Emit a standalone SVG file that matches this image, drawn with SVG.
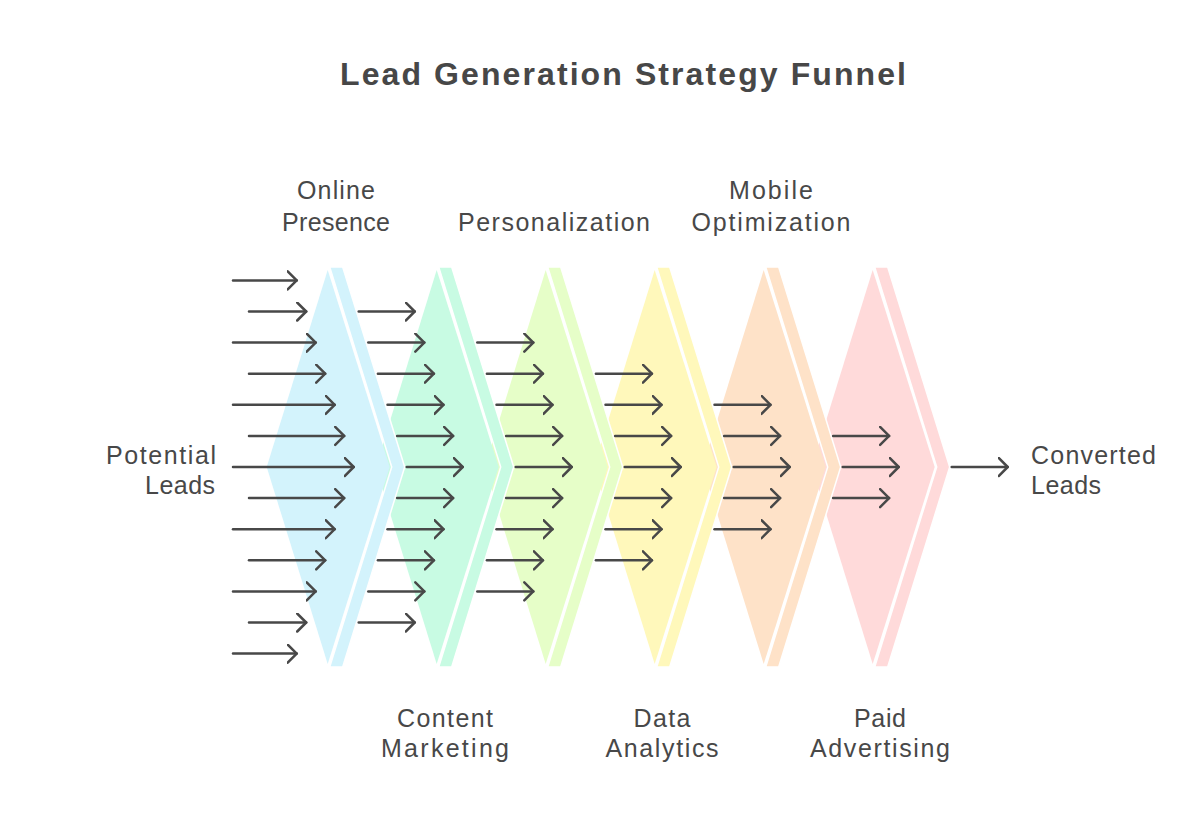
<svg xmlns="http://www.w3.org/2000/svg" width="1200" height="826" viewBox="0 0 1200 826">
<style>
.t{font-family:"Liberation Sans",Arial,sans-serif;font-size:25px;fill:#484848}
.title{font-family:"Liberation Sans",Arial,sans-serif;font-size:32px;font-weight:bold;fill:#474747}
.strip{stroke:#fff;stroke-width:1.5}
.a{stroke:#484848;stroke-width:2.5;fill:none;stroke-linecap:round;marker-end:url(#h)}
</style>
<defs>
<marker id="h" markerUnits="userSpaceOnUse" markerWidth="14" markerHeight="22" refX="10" refY="10" orient="auto" viewBox="0 0 14 22">
<path d="M1,1 L10,10 L1,19" fill="none" stroke="#484848" stroke-width="2.5" stroke-linecap="round" stroke-linejoin="round"/>
</marker>
</defs>
<rect width="1200" height="826" fill="#fff"/>
<text class="title" x="623" y="85" text-anchor="middle" textLength="566">Lead Generation Strategy Funnel</text>

<g id="stage-paid-advertising">
<polygon class="strip" fill="#ffdada" points="874.7,267 887.7,267 949.7,467 887.7,667 874.7,667 936.7,467"/>
<polygon fill="#ffdada" points="872.7,270 934.7,467 872.7,664 811.7,467"/>
</g>
<g id="stage-mobile-optimization">
<polygon class="strip" fill="#fee2c8" points="765.7,267 778.7,267 840.7,467 778.7,667 765.7,667 827.7,467"/>
<polygon fill="#fee2c8" points="763.7,270 825.7,467 763.7,664 702.7,467"/>
</g>
<g id="stage-data-analytics">
<polygon class="strip" fill="#fff8bb" points="656.7,267 669.7,267 731.7,467 669.7,667 656.7,667 718.7,467"/>
<polygon fill="#fff8bb" points="654.7,270 716.7,467 654.7,664 593.7,467"/>
</g>
<g id="stage-personalization">
<polygon class="strip" fill="#e6fec8" points="547.7,267 560.7,267 622.7,467 560.7,667 547.7,667 609.7,467"/>
<polygon fill="#e6fec8" points="545.7,270 607.7,467 545.7,664 484.7,467"/>
</g>
<g id="stage-content-marketing">
<polygon class="strip" fill="#c8fbe3" points="438.7,267 451.7,267 513.7,467 451.7,667 438.7,667 500.7,467"/>
<polygon fill="#c8fbe3" points="436.7,270 498.7,467 436.7,664 375.7,467"/>
</g>
<g id="stage-online-presence">
<polygon class="strip" fill="#d3f3fc" points="329.7,267 342.7,267 404.7,467 342.7,667 329.7,667 391.7,467"/>
<polygon fill="#d3f3fc" points="327.7,270 389.7,467 327.7,664 266.7,467"/>
</g>

<g id="connectors">
<path class="a" d="M233 280.4H296.7"/>
<path class="a" d="M249 311.5H306.2"/>
<path class="a" d="M233 342.6H315.7"/>
<path class="a" d="M249 373.7H325.2"/>
<path class="a" d="M233 404.8H334.7"/>
<path class="a" d="M249 435.9H344.2"/>
<path class="a" d="M233 467H353.7"/>
<path class="a" d="M249 498.1H344.2"/>
<path class="a" d="M233 529.2H334.7"/>
<path class="a" d="M249 560.3H325.2"/>
<path class="a" d="M233 591.4H315.7"/>
<path class="a" d="M249 622.5H306.2"/>
<path class="a" d="M233 653.6H296.7"/>

<path class="a" d="M358.7 311.5h56"/>
<path class="a" d="M368.3 342.6h56"/>
<path class="a" d="M377.9 373.7h56"/>
<path class="a" d="M387.5 404.8h56"/>
<path class="a" d="M397.1 435.9h56"/>
<path class="a" d="M406.7 467h56"/>
<path class="a" d="M397.1 498.1h56"/>
<path class="a" d="M387.5 529.2h56"/>
<path class="a" d="M377.9 560.3h56"/>
<path class="a" d="M368.3 591.4h56"/>
<path class="a" d="M358.7 622.5h56"/>

<path class="a" d="M477.3 342.6h56"/>
<path class="a" d="M486.9 373.7h56"/>
<path class="a" d="M496.5 404.8h56"/>
<path class="a" d="M506.1 435.9h56"/>
<path class="a" d="M515.7 467h56"/>
<path class="a" d="M506.1 498.1h56"/>
<path class="a" d="M496.5 529.2h56"/>
<path class="a" d="M486.9 560.3h56"/>
<path class="a" d="M477.3 591.4h56"/>

<path class="a" d="M595.9 373.7h56"/>
<path class="a" d="M605.5 404.8h56"/>
<path class="a" d="M615.1 435.9h56"/>
<path class="a" d="M624.7 467h56"/>
<path class="a" d="M615.1 498.1h56"/>
<path class="a" d="M605.5 529.2h56"/>
<path class="a" d="M595.9 560.3h56"/>

<path class="a" d="M714.5 404.8h56"/>
<path class="a" d="M724.1 435.9h56"/>
<path class="a" d="M733.7 467h56"/>
<path class="a" d="M724.1 498.1h56"/>
<path class="a" d="M714.5 529.2h56"/>

<path class="a" d="M833.1 435.9h56"/>
<path class="a" d="M842.7 467h56"/>
<path class="a" d="M833.1 498.1h56"/>

<path class="a" d="M951.7 467h56"/>
</g>

<g id="labels">
<text class="t" x="336" y="199" text-anchor="middle" textLength="78">Online</text>
<text class="t" x="336" y="231" text-anchor="middle" textLength="108">Presence</text>
<text class="t" x="554" y="231" text-anchor="middle" textLength="192">Personalization</text>
<text class="t" x="771" y="199" text-anchor="middle" textLength="84">Mobile</text>
<text class="t" x="771" y="231" text-anchor="middle" textLength="159">Optimization</text>
<text class="t" x="161" y="464" text-anchor="middle" textLength="110">Potential</text>
<text class="t" x="180" y="494" text-anchor="middle" textLength="70">Leads</text>
<text class="t" x="1031" y="464" textLength="125">Converted</text>
<text class="t" x="1031" y="494" textLength="70">Leads</text>
<text class="t" x="445" y="727" text-anchor="middle" textLength="96">Content</text>
<text class="t" x="445" y="757" text-anchor="middle" textLength="128">Marketing</text>
<text class="t" x="662" y="727" text-anchor="middle" textLength="57">Data</text>
<text class="t" x="662" y="757" text-anchor="middle" textLength="113">Analytics</text>
<text class="t" x="880" y="727" text-anchor="middle" textLength="52">Paid</text>
<text class="t" x="880" y="757" text-anchor="middle" textLength="140">Advertising</text>
</g>
</svg>
